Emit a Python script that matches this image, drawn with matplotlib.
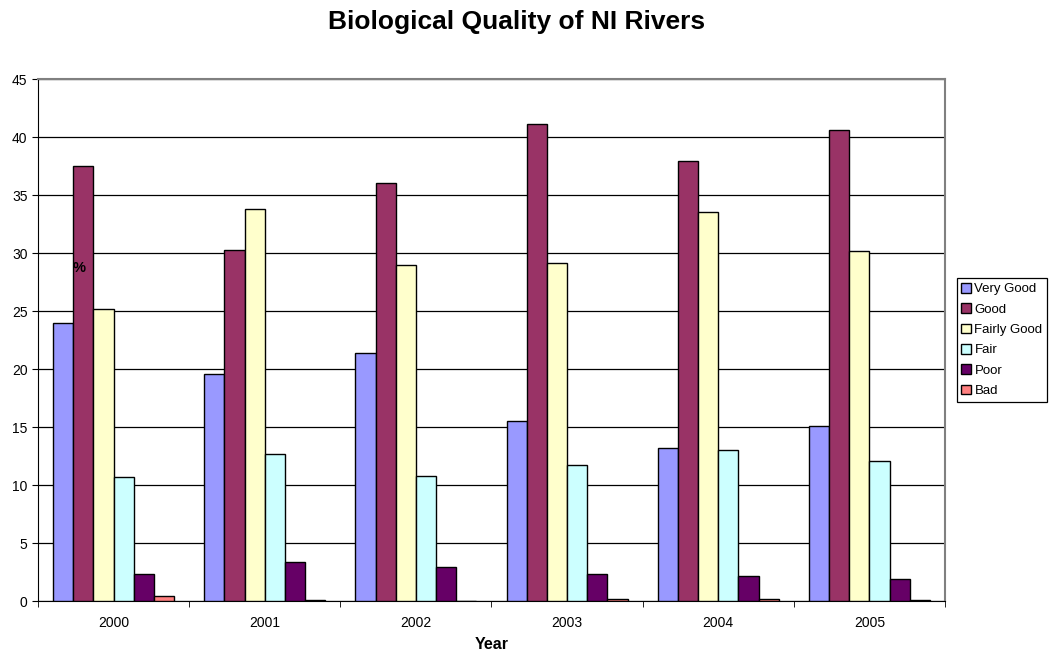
import numpy as np
import matplotlib.pyplot as plt

plt.rcParams['font.family'] = ['Liberation Sans', 'DejaVu Sans']

years = ['2000', '2001', '2002', '2003', '2004', '2005']
categories = ['Very Good', 'Good', 'Fairly Good', 'Fair', 'Poor', 'Bad']
very_good = [24.0, 19.6, 21.4, 15.5, 13.2, 15.1]
good = [37.5, 30.3, 36.0, 41.1, 37.9, 40.6]
fairly_good = [25.2, 33.8, 29.0, 29.1, 33.5, 30.2]
fair = [10.7, 12.7, 10.8, 11.7, 13.0, 12.1]
poor = [2.3, 3.4, 2.9, 2.3, 2.2, 1.9]
bad = [0.4, 0.1, 0.0, 0.2, 0.2, 0.1]
series = [very_good, good, fairly_good, fair, poor, bad]
colors = ['#9999FF', '#993366', '#FFFFCC', '#CCFFFF', '#660066', '#FF8080']

fig = plt.figure(figsize=(10.52, 6.56), dpi=100)
ax = fig.add_axes([0.0361, 0.0838, 0.8622, 0.7957])

x = np.arange(len(years))
w = 0.8 / 6
for i, (vals, c, name) in enumerate(zip(series, colors, categories)):
    ax.bar(x - 0.4 + w * (i + 0.5), vals, width=w, color=c, edgecolor='black',
           linewidth=1.0, label=name, zorder=3)

ax.set_xlim(-0.5, len(years) - 0.5)
ax.set_ylim(0, 45)
ax.set_yticks(range(0, 46, 5))
ax.yaxis.grid(True, color='black', linewidth=0.9, zorder=0)
ax.set_axisbelow(True)

ax.set_xticks(x)
ax.set_xticklabels(years, fontsize=10)
ax.set_xticks(np.arange(-0.5, len(years)), minor=True)
ax.tick_params(axis='x', which='major', length=0, pad=11)
ax.tick_params(axis='x', which='minor', length=4, direction='out')
ax.tick_params(axis='y', labelsize=10, length=4, direction='out')

for s in ['top', 'right']:
    ax.spines[s].set_color('#808080')
    ax.spines[s].set_linewidth(1.5)
for s in ['left', 'bottom']:
    ax.spines[s].set_color('black')

ax.set_xlabel('Year', fontsize=11.5, fontweight='bold', labelpad=5)
fig.text(0.0755, 0.591, '%', fontsize=10.5, fontweight='bold', ha='center', va='center')

fig.suptitle('Biological Quality of NI Rivers', fontsize=19, fontweight='bold',
             x=0.4915, y=0.985)

leg = ax.legend(loc='center left', bbox_to_anchor=(1.0085, 0.5), fontsize=9.5,
                frameon=True, fancybox=False, edgecolor='black', framealpha=1,
                handlelength=0.75, handleheight=0.75, handletextpad=0.25,
                borderpad=0.35, labelspacing=0.6, borderaxespad=0.3)
leg.get_frame().set_linewidth(0.9)

fig.savefig('out.png', dpi=100)
